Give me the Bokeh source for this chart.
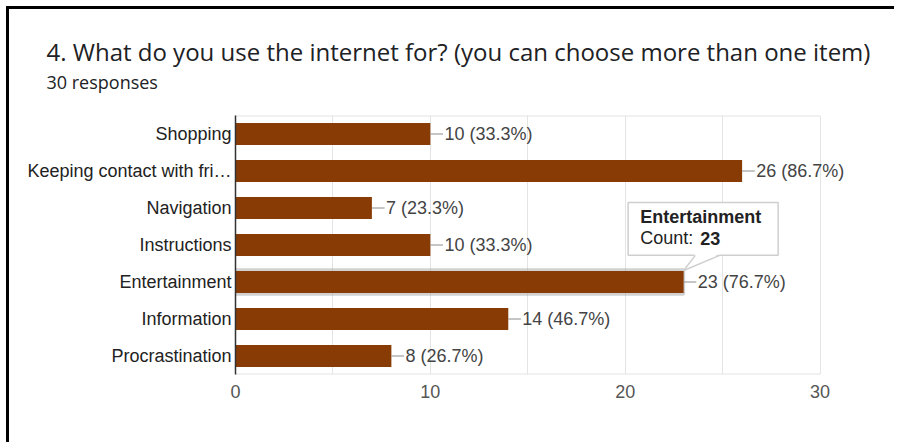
from bokeh.plotting import figure
from bokeh.models import Range1d, FixedTicker, ColumnDataSource, Label, Title
from bokeh.core.properties import value
from bokeh.embed import file_html
from bokeh.resources import INLINE

# ---- data ----
title_text = "4. What do you use the internet for? (you can choose more than one item)"
subtitle_text = "30 responses"
categories = ["Shopping", "Keeping contact with fri\u2026", "Navigation", "Instructions",
              "Entertainment", "Information", "Procrastination"]
counts = [10, 26, 7, 10, 23, 14, 8]
percents = ["33.3%", "86.7%", "23.3%", "33.3%", "76.7%", "46.7%", "26.7%"]
x_ticks = [0, 10, 20, 30]
grid_ticks = [0, 5, 10, 15, 20, 25, 30]
axis_max = 30
tooltip_category = "Entertainment"
tooltip_label = "Count: "

# ---- styles ----
BAR = "#883b04"
FONT = "Liberation Sans"
TITLE_FONT = "Open Sans"
FS = "18px"
GRID = "#e4e4e4"

n = len(categories)
ypos = [n - 1 - i for i in range(n)]
labels = [f"{c} ({p})" for c, p in zip(counts, percents)]

src = ColumnDataSource(dict(y=ypos, count=counts, label=labels,
                            lead_end=[c + 0.65 for c in counts],
                            text_x=[c + 0.72 for c in counts]))

# frame extended to the right (past 30) so that value labels are not clipped
p = figure(width=888, height=436, x_range=Range1d(0, 33), y_range=Range1d(-0.5, n - 0.5),
           output_backend="svg", toolbar_location=None, title=None,
           min_border_left=226, min_border_right=19, min_border_top=106, min_border_bottom=71)
p.styles = {"margin-left": "6px", "margin-top": "6px",
            "border-top": "3px solid #000", "border-left": "3px solid #000"}
p.background_fill_color = "white"
p.border_fill_color = "white"
p.outline_line_color = None

# titles: spacer nearest the frame, then subtitle, then main title
p.add_layout(Title(text="\u00a0", text_font_size="10px", standoff=9), "above")
p.add_layout(Title(text=subtitle_text, align="left", offset=-189, text_font_size="18px",
                   text_font=TITLE_FONT, text_font_style="normal", text_color="#202124",
                   standoff=0), "above")
p.add_layout(Title(text=title_text, align="left", offset=-189, text_font_size="24px",
                   text_font=TITLE_FONT, text_font_style="normal", text_color="#202124",
                   standoff=0), "above")

# axes
p.xaxis.ticker = FixedTicker(ticks=x_ticks)
p.xgrid.ticker = FixedTicker(ticks=grid_ticks)
p.xgrid.grid_line_color = GRID
p.ygrid.grid_line_color = None
p.xaxis.axis_line_color = None
p.xaxis.major_tick_line_color = None
p.xaxis.minor_tick_line_color = None
p.xaxis.major_tick_out = 0
p.xaxis.major_label_standoff = 10
p.xaxis.major_label_text_font = FONT
p.xaxis.major_label_text_font_size = FS
p.xaxis.major_label_text_color = "#555555"

p.yaxis.ticker = FixedTicker(ticks=ypos)
p.yaxis.major_label_overrides = {y: c for y, c in zip(ypos, categories)}
p.yaxis.axis_line_color = "#333333"
p.yaxis.axis_line_width = 1.5
p.yaxis.major_tick_line_color = None
p.yaxis.minor_tick_line_color = None
p.yaxis.major_tick_out = 0
p.yaxis.major_label_standoff = 4
p.yaxis.major_label_text_font = FONT
p.yaxis.major_label_text_font_size = FS
p.yaxis.major_label_text_color = "#222222"

# chart-area border (top and bottom) up to the axis maximum
p.segment(x0=[0, 0], x1=[axis_max, axis_max], y0=[-0.5, n - 0.5], y1=[-0.5, n - 0.5],
          line_color=GRID, line_width=2)

# highlighted bar glow
ti = categories.index(tooltip_category)
tv, ty = counts[ti], ypos[ti]
p.hbar(y=[ty], left=0, right=[tv], height=0.66, fill_color=None,
       line_color="#9a9a9a", line_alpha=0.45, line_width=3)

# bars
p.hbar(y="y", left=0, right="count", height=0.6, source=src, fill_color=BAR, line_color=None)

# leader lines and value labels
p.segment(x0="count", x1="lead_end", y0="y", y1="y", source=src, line_color="#8c8c8c", line_width=1)
p.text(x="text_x", y="y", text="label", source=src, text_baseline="middle",
       text_font=value(FONT), text_font_size=FS, text_color="#444444")

# tooltip callout
p.quad(left=[tv - 2.85], right=[tv + 4.85], bottom=[ty + 0.72], top=[ty + 2.15],
       fill_color="white", line_color="#cfcfcf", line_width=1.5)
p.patch(x=[tv, tv + 0.6, tv + 1.85], y=[ty + 0.31, ty + 0.76, ty + 0.76],
        fill_color="white", line_color=None)
p.segment(x0=[tv, tv], y0=[ty + 0.31, ty + 0.31], x1=[tv + 0.6, tv + 1.85], y1=[ty + 0.72, ty + 0.72],
          line_color="#cfcfcf", line_width=1.5)
p.add_layout(Label(x=tv - 2.23, y=ty + 1.77, text=tooltip_category, text_baseline="middle",
                   text_font=FONT, text_font_size=FS, text_font_style="bold", text_color="#222222"))
p.add_layout(Label(x=tv - 2.23, y=ty + 1.18, text=tooltip_label, text_baseline="middle",
                   text_font=FONT, text_font_size=FS, text_color="#222222"))
p.add_layout(Label(x=tv + 0.85, y=ty + 1.18, text=str(tv), text_baseline="middle",
                   text_font=FONT, text_font_size=FS, text_font_style="bold", text_color="#222222"))

open("out.html", "w").write(file_html(p, INLINE))
